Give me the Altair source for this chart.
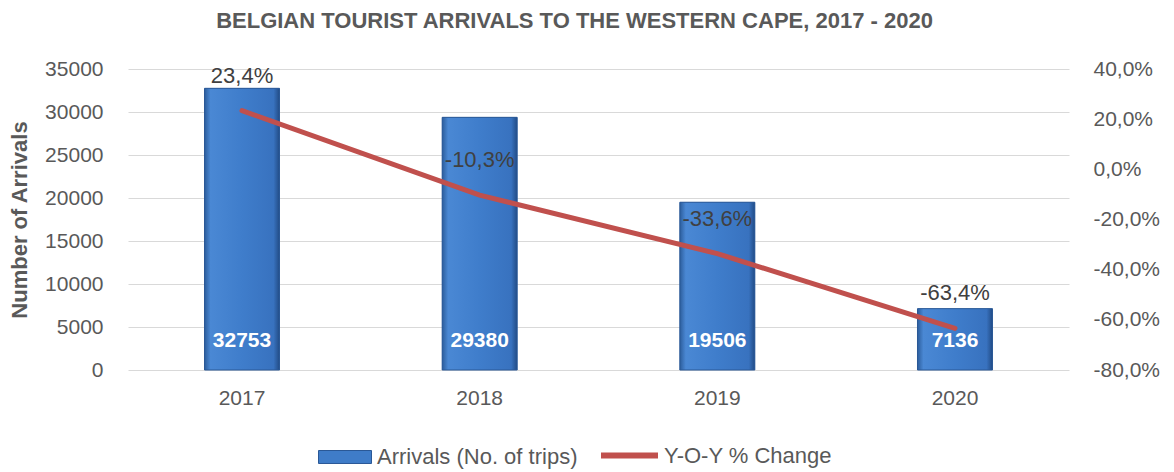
import altair as alt
import pandas as pd

years = ["2017", "2018", "2019", "2020"]
arrivals = [32753, 29380, 19506, 7136]
yoy_change = [23.4, -10.3, -33.6, -63.4]

bar_series = "Arrivals (No. of trips)"
line_series = "Y-O-Y % Change"

df = pd.DataFrame({
    "year": years,
    "arrivals": arrivals,
    "yoy": yoy_change,
    "bar_series": [bar_series] * len(years),
    "line_series": [line_series] * len(years),
})

FONT = "Liberation Sans Narrow, Arial Narrow, Liberation Sans, sans-serif"
GRAY = "#595959"
MINUS = "\u2212"
PCT_EXPR = "replace(replace(format({v}, '.1f'), '.', ','), '" + MINUS + "', '-') + '%'"

base = alt.Chart(df)

x_enc = alt.X(
    "year:N",
    title=None,
    sort=years,
    scale=alt.Scale(paddingInner=0.6845, paddingOuter=0.322),
    axis=alt.Axis(labelAngle=0, labelFontSize=21, labelColor=GRAY, labelFont=FONT,
                  ticks=False, domain=False, labelPadding=17),
)

left_scale = alt.Scale(domain=[0, 35000])
left_axis = alt.Axis(values=list(range(0, 35001, 5000)), format="d", labelFontSize=21,
                     labelColor=GRAY, labelFont=FONT, titleFont=FONT, titleFontSize=22,
                     titleColor=GRAY, titleFontWeight="bold", ticks=False, domain=False,
                     grid=True, gridColor="#d9d9d9", gridWidth=1.2, labelPadding=25,
                     titlePadding=13)

bars_legend = base.mark_bar().encode(
    x=x_enc,
    y=alt.Y("arrivals:Q", title="Number of Arrivals", scale=left_scale, axis=left_axis),
    fill=alt.Fill(
        "bar_series:N",
        scale=alt.Scale(domain=[bar_series], range=["#3f7cc8"]),
        legend=alt.Legend(title=None, orient="none", legendX=190, legendY=361,
                          padding=0, symbolType="M-1,-0.245H1V0.245H-1Z",
                          symbolSize=2809, labelFontSize=22, labelColor=GRAY,
                          labelFont=FONT, labelLimit=0, labelOffset=5,
                          symbolStrokeColor="#2a5896", symbolStrokeWidth=1),
    ),
)

bars = base.mark_bar(
    color=alt.Gradient(
        gradient="linear",
        x1=0, x2=1, y1=0, y2=0,
        stops=[
            alt.GradientStop(offset=0, color="#2c5d9c"),
            alt.GradientStop(offset=0.08, color="#4a88d4"),
            alt.GradientStop(offset=0.5, color="#3f7dcb"),
            alt.GradientStop(offset=0.92, color="#3872bf"),
            alt.GradientStop(offset=1, color="#224c86"),
        ],
    ),
    stroke="#2a5896",
    strokeWidth=1,
).encode(x=x_enc, y=alt.Y("arrivals:Q", title="Number of Arrivals", scale=left_scale, axis=left_axis))

bar_text = base.mark_text(
    color="white", fontWeight="bold", fontSize=21, font=FONT, baseline="middle", dy=-29
).encode(
    x=x_enc,
    y=alt.Y("zero:Q", title="Number of Arrivals", scale=left_scale, axis=left_axis),
    text=alt.Text("arrivals:Q", format="d"),
).transform_calculate(zero="0")

left = alt.layer(bars_legend, bars, bar_text)

right_scale = alt.Scale(domain=[-80, 40])
right_axis = alt.Axis(orient="right", values=list(range(-80, 41, 20)),
                      labelExpr=PCT_EXPR.format(v="datum.value"),
                      labelFontSize=21, labelColor=GRAY, labelFont=FONT,
                      ticks=False, domain=False, grid=False, labelPadding=24)

line = base.mark_line(strokeWidth=5, strokeCap="round").encode(
    x=x_enc,
    y=alt.Y("yoy:Q", title=None, scale=right_scale, axis=right_axis),
    stroke=alt.Stroke(
        "line_series:N",
        scale=alt.Scale(domain=[line_series], range=["#c0504d"]),
        legend=alt.Legend(title=None, orient="none", legendX=470, legendY=355,
                          padding=0, symbolType="stroke", symbolStrokeWidth=6,
                          symbolSize=3249, labelFontSize=22, labelColor=GRAY,
                          labelFont=FONT, labelLimit=0, labelOffset=3),
    ),
)

line_text = base.mark_text(
    color="#404040", fontSize=22, font=FONT, baseline="middle", dy=-35
).encode(
    x=x_enc,
    y=alt.Y("yoy:Q", title=None, scale=right_scale, axis=right_axis),
    text="label:N",
).transform_calculate(label=PCT_EXPR.format(v="datum.yoy"))

right = alt.layer(line, line_text)

chart = alt.layer(left, right).resolve_scale(
    y="independent", fill="independent", stroke="independent"
).properties(
    width=941,
    height=301,
    title=alt.TitleParams(
        "BELGIAN TOURIST ARRIVALS TO THE WESTERN CAPE, 2017 - 2020",
        fontSize=22, font=FONT, fontWeight="bold", color=GRAY, anchor="middle",
        offset=25, dx=-24,
    ),
    padding={"left": 0, "right": 5, "top": 2, "bottom": 5},
).configure_view(stroke=None)

chart.save("out.html", embed_options={"renderer": "svg", "actions": False})
